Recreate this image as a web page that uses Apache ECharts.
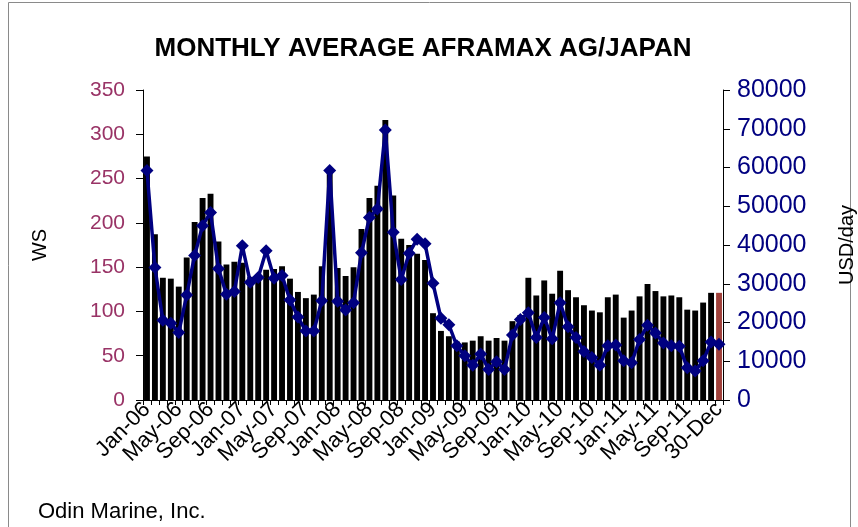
<!DOCTYPE html>
<html>
<head>
<meta charset="utf-8">
<script src="https://cdn.jsdelivr.net/npm/echarts@6/dist/echarts.min.js"></script>
<style>
html,body{margin:0;padding:0;background:#fff;}
#chart{width:858px;height:527px;}
</style>
</head>
<body>
<div id="chart"></div>
<script>
// Category labels: Jan-06 .. Dec-11, then current day
const monthNames = ['Jan','Feb','Mar','Apr','May','Jun','Jul','Aug','Sep','Oct','Nov','Dec'];
const years = ['06','07','08','09','10','11'];
const lastLabel = '30-Dec';
const categories = [];
years.forEach(y => monthNames.forEach(m => categories.push(m + '-' + y)));
categories.push(lastLabel);

// WS (left axis, bars)
const wsValues = [
  275, 187, 138, 137, 128, 161, 201, 228, 233, 179, 153, 156,
  155, 139, 142, 147, 148, 151, 137, 122, 115, 119, 151, 262,
  149, 140, 150, 193, 228, 242, 316, 231, 182, 175, 165, 158,
  98, 78, 72, 66, 65, 67, 72, 67, 70, 67, 89, 96,
  138, 118, 135, 120, 146, 124, 116, 107, 101, 99, 116, 119,
  93, 101, 117, 131, 123, 117, 118, 116, 102, 101, 110, 121,
  121
];

// USD/day (right axis, line)
const usdValues = [
  59200, 34200, 20600, 19800, 17400, 27100, 37300, 45000, 48400, 33900, 27300, 28000,
  39800, 30400, 31600, 38500, 31400, 32100, 25800, 21400, 17800, 17800, 25600, 59200,
  25500, 23200, 25100, 38000, 47100, 49300, 69700, 43300, 31100, 37900, 41500, 40300,
  30100, 21100, 19400, 14000, 11400, 9000, 11900, 7900, 9900, 7900, 16800, 20800,
  22500, 16100, 21300, 15800, 25100, 18900, 16100, 12500, 11000, 9000, 14000, 14200,
  10100, 9600, 15600, 19300, 17300, 14700, 14000, 13900, 8300, 7500, 10100, 15000,
  14400
];

const chart = echarts.init(document.getElementById('chart'));
const font = 'Liberation Sans, Arial, sans-serif';
const lastIdx = categories.length - 1;

chart.setOption({
  animation: false,
  backgroundColor: '#ffffff',
  textStyle: { fontFamily: font },
  title: {
    text: 'MONTHLY AVERAGE AFRAMAX AG/JAPAN',
    left: 418, top: 31, textAlign: 'center',
    textStyle: { fontFamily: font, fontSize: 26, fontWeight: 'bold', color: '#000' }
  },
  graphic: [
    { type: 'rect', shape: { x: 8.5, y: 2.5, width: 842, height: 540 },
      style: { fill: 'none', stroke: '#8a8a8a', lineWidth: 1 }, silent: true },
    { type: 'text', left: 38, top: 501,
      style: { text: 'Odin Marine, Inc.', font: '22px Liberation Sans, Arial, sans-serif', fill: '#000' } }
  ],
  grid: { left: 143, right: 135, top: 90, bottom: 127, containLabel: false, outerBoundsMode: 'none' },
  xAxis: {
    type: 'category',
    data: categories,
    boundaryGap: true,
    axisLine: { lineStyle: { color: '#000', width: 1 } },
    axisTick: { show: true, interval: 0, length: 5, lineStyle: { color: '#000' } },
    axisLabel: { interval: 3, rotate: 45, fontSize: 22, color: '#000', fontFamily: font, margin: 6 }
  },
  yAxis: [
    {
      type: 'value', min: 0, max: 350, interval: 50, position: 'left',
      name: 'WS', nameLocation: 'middle', nameGap: 93, nameRotate: 90,
      nameTextStyle: { fontSize: 20, color: '#000', fontFamily: font },
      axisLine: { show: true, lineStyle: { color: '#000', width: 1 } },
      axisTick: { show: true, length: 7, lineStyle: { color: '#000' } },
      axisLabel: { fontSize: 21, color: '#993366', fontFamily: font, margin: 18 },
      splitLine: { show: false }
    },
    {
      type: 'value', min: 0, max: 80000, interval: 10000, position: 'right',
      name: 'USD/day', nameLocation: 'middle', nameGap: 114, nameRotate: 90,
      nameTextStyle: { fontSize: 20, color: '#000', fontFamily: font },
      axisLine: { show: true, lineStyle: { color: '#000', width: 1 } },
      axisTick: { show: true, length: 7, lineStyle: { color: '#000' } },
      axisLabel: { fontSize: 25, color: '#000080', fontFamily: font, margin: 14,
                   formatter: v => String(v) },
      splitLine: { show: false }
    }
  ],
  series: [
    {
      type: 'bar', yAxisIndex: 0,
      data: wsValues,
      barCategoryGap: '26%',
      itemStyle: {
        color: p => (p.dataIndex === lastIdx ? '#a0403a' : '#000000')
      },
      z: 2
    },
    {
      type: 'line', yAxisIndex: 1,
      data: usdValues,
      symbol: 'diamond', symbolSize: 13,
      showAllSymbol: true,
      lineStyle: { color: '#000080', width: 3.5 },
      itemStyle: { color: '#000080' },
      z: 3
    }
  ]
});
</script>
</body>
</html>
